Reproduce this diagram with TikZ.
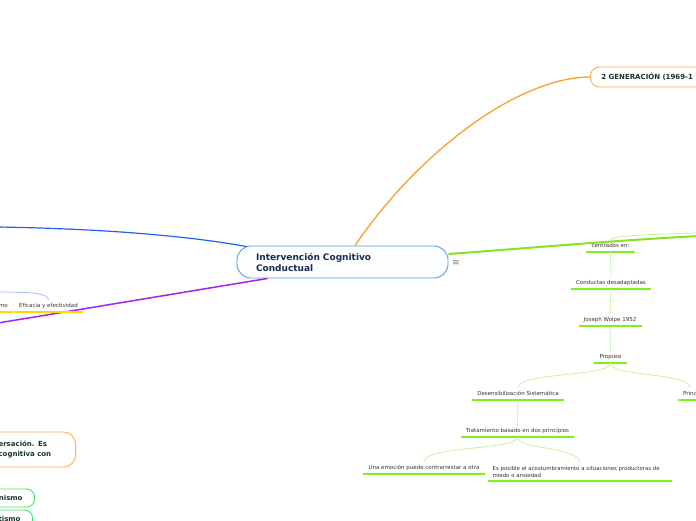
\documentclass[tikz,border=0pt]{standalone}
\usepackage{fontspec}
\setmainfont{DejaVu Sans}
\usetikzlibrary{calc}
\definecolor{rootborder}{HTML}{5A9FE0}
\definecolor{rootfill}{HTML}{FBFDFF}
\definecolor{roottext}{HTML}{1B2A55}
\definecolor{orangeln}{HTML}{F6A22D}
\definecolor{orangebd}{HTML}{F9B24A}
\definecolor{bluebr}{HTML}{2060F5}
\definecolor{bluelt}{HTML}{9AB6FF}
\definecolor{purplebr}{HTML}{A620F2}
\definecolor{greenbr}{HTML}{86E41E}
\definecolor{greenul}{HTML}{7CF21A}
\definecolor{greenlt}{HTML}{C9F3A4}
\definecolor{greenbd}{HTML}{3EE860}
\definecolor{yellowul}{HTML}{FFD400}
\definecolor{leaftext}{HTML}{333333}
\definecolor{boxtext}{HTML}{17352A}
\begin{document}
\begin{tikzpicture}[x=1pt,y=-1pt,
  rootbox/.style={draw=rootborder, fill=rootfill, line width=0.9pt, rounded corners=14pt, minimum height=32pt, text width=173pt, inner xsep=19pt, align=left, font=\bfseries\fontsize{9}{11}\selectfont, text=roottext},
  leafbase/.style={font=\fontsize{5.5}{7}\selectfont, text=leaftext, inner xsep=5pt, inner ysep=3.55pt},
  leaf/.style={leafbase, text height=3.8pt, text depth=1.1pt},
  gline/.style={greenul, line width=1.6pt},
  yline/.style={yellowul, line width=1.6pt},
  conn/.style={greenlt, line width=0.8pt},
  obox/.style={draw=orangebd, fill=white, line width=0.9pt, font=\bfseries\fontsize{7}{9.5}\selectfont, text=boxtext},
  gbox/.style={draw=greenbd, fill=white, line width=0.9pt, rounded corners=8pt, font=\bfseries\fontsize{7}{8}\selectfont, text=boxtext, inner xsep=12pt, minimum height=18pt},
]
\useasboundingbox (0,0) rectangle (696,520);
\clip (0,0) rectangle (696,520);
\fill[white] (0,0) rectangle (696,520);

% main nodes
\node[rootbox] (root) at (342.5,262) {Intervención Cognitivo\\Conductual};
\node[font=\fontsize{9}{9}\selectfont, text=gray, inner sep=0pt] (menu) at (456,263) {≡};
\node[obox, rounded corners=9pt, anchor=west, minimum height=20pt, inner xsep=11pt, text width=130pt, align=left] (gen) at (590,77) {2 GENERACIÓN (1969-1};

% off-picture ends
\coordinate (blueend) at (-2,227);
\coordinate (purpend) at (-2,323);
\coordinate (greenend) at (700,236);
\coordinate (bluesub) at (-2,292);
\coordinate (cenpar) at (700,233);

% branches
\draw[orangeln, line width=1.3pt] ($(root.north)+(12.5,0)$) .. controls (420,150) and (520,77) .. (gen.west);
\draw[bluebr, line width=1.2pt] (blueend) .. controls (120,229) and (200,238) .. ($(root.north west)+(10,1)$);
\draw[purplebr, line width=1.5pt] (purpend) -- ($(root.south west)+(31,0)$);
\draw[greenbr, line width=2pt] ($(root.east)+(0,-8)$) .. controls (530,248) and (620,240) .. (greenend);

% left leaves
\node[leaf] (efic) at (48.5,306) {Eficacia y efectividad};
\node[leaf, anchor=east] (mo) at (13,306) {mo};
\draw[yline] (efic.south west) -- (efic.south east);
\draw[yline] ($(mo.south west)+(-5,0)$) -- (mo.south east);
\draw[bluelt, line width=0.7pt] (bluesub) .. controls (30,292) and (48,293) .. (efic.north);

% right leaves
\node[leaf] (cen) at (610.5,246) {centrados en:};
\node[leaf] (cond) at (611,283) {Conductas desadaptadas};
\node[leaf] (wolpe) at (610,320) {Joseph Wolpe 1952};
\node[leaf] (prop) at (610.5,357) {Propuso};
\node[leaf] (des) at (518,394) {Desensibilización Sistemática};
\node[leaf, anchor=west] (princ) at (678,394) {Princ};
\node[leaf] (trat) at (517.5,431) {Tratamiento basado en dos principios};
\node[leaf] (emo) at (424,468) {Una emoción puede contrarrestar a otra};
\node[leafbase, font=\fontsize{5.4}{7}\selectfont, anchor=south west, text width=175pt, align=left, inner xsep=4.5pt, inner ysep=3pt] (acos) at (488,481) {Es posible el acostumbramiento a situaciones productoras de\\miedo o ansiedad};

\foreach \n in {cen,cond,wolpe,prop,des,trat,emo,acos}
  \draw[gline] (\n.south west) -- (\n.south east);
\draw[gline] (princ.south west) -- ++(40,0);

\draw[conn] (cenpar) .. controls (650,234) and (611,236) .. (cen.north);
\draw[conn] (cen.south) -- (cond.north);
\draw[conn] (cond.south) -- (wolpe.north);
\draw[conn] (wolpe.south) -- (prop.north);
\draw[conn] (prop.south) .. controls (610.5,377) and (518,372) .. (des.north);
\draw[conn] (prop.south) .. controls (610.5,377) and (690,372) .. (princ.north);
\draw[conn] (des.south) -- (trat.north);
\draw[conn] (trat.south) .. controls (517.5,450) and (424,446) .. (emo.north);
\draw[conn] (trat.south) .. controls (517.5,450) and (580,446) .. (acos.north);

% bottom-left boxes
\node[obox, rounded corners=12pt, anchor=east, inner xsep=14pt, text width=63pt, align=left, minimum height=35pt] (conv) at (76,449.5) {ersación. Es\\cognitiva con};
\node[gbox, anchor=east] (nism) at (35,498) {nismo};
\node[gbox, anchor=east] (tism) at (33,519) {tismo};
\end{tikzpicture}
\end{document}
